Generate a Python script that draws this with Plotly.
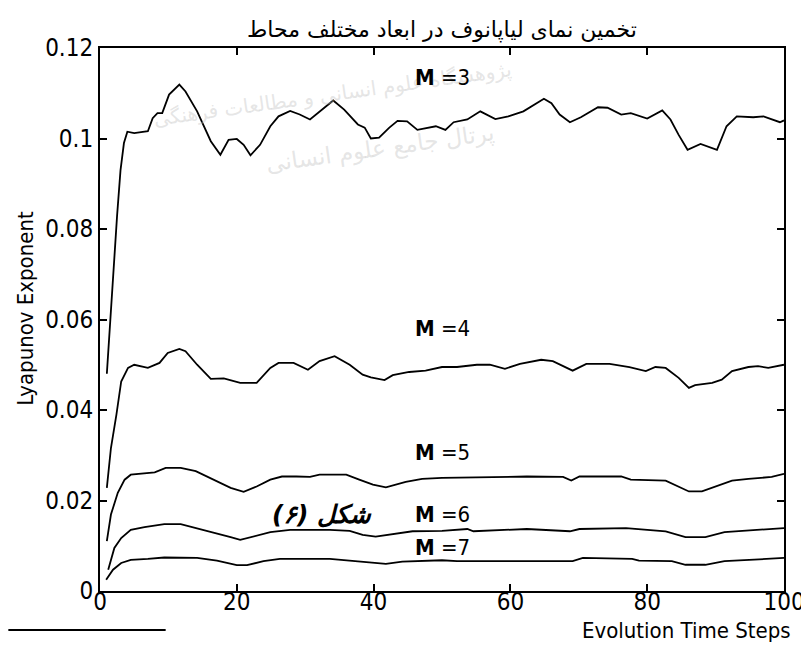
import plotly.graph_objects as go

# ---- data ----
x_m3 = [1, 1.5, 2, 2.5, 3, 3.5, 4, 5, 6, 7, 7.7, 8.4, 9.1, 10.1, 11.6, 12.5, 14.2, 16.2, 17.6, 18.8,
        20, 21, 22, 23.4, 24.9, 26.1, 27.8, 29.2, 30.7, 32.1, 34.1, 35.7, 37.7, 38.7, 39.6, 40.8,
        42.3, 43.5, 44.9, 46.4, 47.6, 49.1, 50.5, 51.7, 53.7, 55.6, 57.8, 59.7, 61.9, 63.6, 64.9,
        66, 67.2, 68.7, 70.3, 72.8, 74.2, 76.2, 77.6, 80, 82.2, 83.4, 84.6, 85.9, 87.8, 90.2, 91.6,
        93.1, 95.5, 97, 99.4, 100]
y_m3 = [0.048, 0.060, 0.070, 0.083, 0.093, 0.099, 0.1015, 0.1012, 0.1014, 0.1016, 0.1045, 0.1056,
        0.1056, 0.1097, 0.1119, 0.1104, 0.1060, 0.0994, 0.0964, 0.0997, 0.0999, 0.0986, 0.0963,
        0.0986, 0.1027, 0.1049, 0.1061, 0.1053, 0.1042, 0.1059, 0.1084, 0.1064, 0.1031, 0.1024,
        0.1000, 0.1002, 0.1024, 0.1039, 0.1038, 0.1019, 0.1023, 0.1027, 0.1019, 0.1036, 0.1042,
        0.1060, 0.1043, 0.1049, 0.1060, 0.1075, 0.1088, 0.1078, 0.1053, 0.1036, 0.1047, 0.1069,
        0.1068, 0.1053, 0.1056, 0.1044, 0.1062, 0.1042, 0.1008, 0.0975, 0.0988, 0.0975, 0.1027,
        0.1049, 0.1047, 0.1049, 0.1036, 0.1040]

x_m4 = [1, 1.6, 2.4, 3.1, 4.1, 5.0, 7.0, 8.7, 9.9, 11.6, 12.5, 14.2, 16.2, 18.1, 20.5, 22.9, 24.9,
        26.1, 28.3, 30.4, 32.1, 34.3, 36.5, 38.4, 39.6, 41.6, 42.8, 45.2, 47.6, 50.0, 52.2, 55.1,
        57.0, 59.2, 61.4, 64.5, 66.2, 69.1, 71.1, 74.5, 77.4, 79.8, 81.2, 82.7, 84.6, 86.1, 87.0,
        89.5, 90.9, 92.4, 94.8, 96.2, 97.7, 100]
y_m4 = [0.0228, 0.0316, 0.0390, 0.0463, 0.0493, 0.0500, 0.0493, 0.0504, 0.0526, 0.0535, 0.0530,
        0.0500, 0.0469, 0.0470, 0.0460, 0.0460, 0.0493, 0.0504, 0.0504, 0.0489, 0.0508, 0.0519,
        0.0500, 0.0478, 0.0472, 0.0466, 0.0477, 0.0484, 0.0487, 0.0495, 0.0495, 0.0500, 0.0500,
        0.0491, 0.0502, 0.0511, 0.0508, 0.0487, 0.0502, 0.0502, 0.0495, 0.0486, 0.0495, 0.0493,
        0.0471, 0.0449, 0.0455, 0.0460, 0.0467, 0.0486, 0.0495, 0.0497, 0.0493, 0.0500]

x_m5 = [1, 1.6, 2.6, 3.6, 4.5, 6.5, 8, 9.6, 11.8, 14.0, 16.6, 19.1, 21.0, 22.9, 24.9, 26.6, 28.7,
        30.7, 32.1, 36.0, 37.9, 39.9, 41.8, 44.7, 47.1, 50.0, 62.4, 67.7, 68.9, 70.1, 76.2, 77.6,
        82.7, 84.6, 86.1, 88.0, 89.9, 92.4, 94.8, 98.2, 100]
y_m5 = [0.0110, 0.0169, 0.0217, 0.0246, 0.0257, 0.0259, 0.0262, 0.0272, 0.0272, 0.0265, 0.0246,
        0.0228, 0.0219, 0.0231, 0.0246, 0.0253, 0.0253, 0.0252, 0.0257, 0.0257, 0.0246, 0.0235,
        0.0229, 0.0241, 0.0248, 0.0250, 0.0253, 0.0252, 0.0244, 0.0253, 0.0253, 0.0246, 0.0244,
        0.0231, 0.0220, 0.0220, 0.0231, 0.0244, 0.0248, 0.0252, 0.0259]

x_m6 = [1.2, 2.1, 3.1, 4.5, 6.5, 9.4, 11.8, 14.2, 16.6, 19.1, 20.5, 22.5, 24.9, 27.8, 30.7, 33.6,
        36.5, 38.4, 40.3, 42.3, 45.7, 50.0, 53.7, 54.6, 62.4, 68.7, 70.1, 76.9, 82.7, 85.6, 88.5,
        91.3, 96.2, 100]
y_m6 = [0.0047, 0.0095, 0.0117, 0.0135, 0.0141, 0.0148, 0.0148, 0.0139, 0.0130, 0.0119, 0.0113,
        0.0121, 0.0130, 0.0135, 0.0135, 0.0135, 0.0133, 0.0124, 0.0120, 0.0124, 0.0132, 0.0133,
        0.0137, 0.0132, 0.0137, 0.0132, 0.0137, 0.0139, 0.0132, 0.0119, 0.0119, 0.0130, 0.0135,
        0.0139]

x_m7 = [0.9, 1.9, 3.1, 4.5, 7.0, 9.4, 14.2, 17.1, 20.0, 21.5, 23.9, 26.3, 33.6, 37.4, 39.9, 41.8,
        44.2, 50.0, 52.2, 69.1, 70.6, 77.8, 78.8, 83.6, 85.6, 88.5, 91.3, 97.2, 100]
y_m7 = [0.0025, 0.0047, 0.0062, 0.0069, 0.0071, 0.0074, 0.0073, 0.0067, 0.0057, 0.0057, 0.0066,
        0.0071, 0.0071, 0.0066, 0.0063, 0.0060, 0.0065, 0.0068, 0.0066, 0.0066, 0.0073, 0.0071,
        0.0067, 0.0066, 0.0058, 0.0058, 0.0066, 0.0071, 0.0073]

series_labels = ["M =3", "M =4", "M =5", "M =6", "M =7"]
x_ticks = [0, 20, 40, 60, 80, 100]
y_ticks = [0, 0.02, 0.04, 0.06, 0.08, 0.1, 0.12]
y_tick_text = ["0", "0.02", "0.04", "0.06", "0.08", "0.1", "0.12"]

title_text = "تخمین نمای لیاپانوف در ابعاد مختلف محاط"
figure_caption = "شکل (۶)"
x_title = "Evolution Time Steps"
y_title = "Lyapunov Exponent"
watermark_1 = "پژوهشگاه علوم انسانی و مطالعات فرهنگی"
watermark_2 = "پرتال جامع علوم انسانی"

NARROW = "DejaVu Sans Condensed, Liberation Sans Narrow, Arial Narrow, Liberation Sans, sans-serif"
ARABIC = "DejaVu Sans, Noto Sans, sans-serif"

fig = go.Figure()
all_series = [(x_m3, y_m3), (x_m4, y_m4), (x_m5, y_m5), (x_m6, y_m6), (x_m7, y_m7)]
for (xs, ys), name in zip(all_series, series_labels):
    fig.add_trace(go.Scatter(x=xs, y=ys, mode="lines", name=name,
                             line=dict(color="black", width=1.8), showlegend=False))

# watermark (faint)
fig.add_annotation(text=watermark_1, xref="paper", yref="paper", x=0.34, y=0.915,
                   xanchor="center", yanchor="middle", showarrow=False, textangle=-8,
                   font=dict(family=ARABIC, size=20, color="rgba(190,190,190,0.4)"))
fig.add_annotation(text=watermark_2, xref="paper", yref="paper", x=0.41, y=0.815,
                   xanchor="center", yanchor="middle", showarrow=False, textangle=-8,
                   font=dict(family=ARABIC, size=23, color="rgba(190,190,190,0.4)"))

# series labels
label_pos = [(50.0, 0.1134), (50.0, 0.0581), (50.0, 0.0305), (50.0, 0.0169), (50.0, 0.0097)]
for name, (lx, ly) in zip(series_labels, label_pos):
    m, rest = name.split(" ", 1)
    fig.add_annotation(text="<b>" + m + "</b> " + rest, x=lx, y=ly, xref="x", yref="y",
                       xanchor="center", yanchor="middle", showarrow=False,
                       font=dict(family=NARROW, size=22, color="black"))

fig.add_annotation(text="<b><i>" + figure_caption + "</i></b>", x=32.4, y=0.0168,
                   xref="x", yref="y", xanchor="center", yanchor="middle", showarrow=False,
                   font=dict(family=ARABIC, size=25, color="black"))

fig.add_annotation(text=title_text, xref="paper", yref="paper", x=0.5, y=1.034,
                   xanchor="center", yanchor="middle", showarrow=False,
                   font=dict(family=ARABIC, size=22, color="black"))
fig.add_annotation(text=x_title, xref="paper", yref="paper", x=1.013, y=-0.073,
                   xanchor="right", yanchor="middle", showarrow=False,
                   font=dict(family=NARROW, size=22, color="black"))
fig.add_annotation(text=y_title, xref="paper", yref="paper", x=-0.108, y=0.52,
                   xanchor="center", yanchor="middle", textangle=-90, showarrow=False,
                   font=dict(family=NARROW, size=22, color="black"))

# footnote separator line
fig.add_shape(type="line", xref="paper", yref="paper", x0=-0.134, x1=0.096,
              y0=-0.072, y1=-0.072, line=dict(color="black", width=2))

axis_common = dict(showline=True, linecolor="black", linewidth=2, mirror="ticks",
                   ticks="inside", ticklen=7, tickwidth=1.5, tickcolor="black",
                   showgrid=False, zeroline=False,
                   tickfont=dict(family=NARROW, size=24, color="black"))
fig.update_xaxes(range=[0, 100], tickvals=x_ticks, ticktext=[str(v) for v in x_ticks],
                 ticklabelstandoff=-12, **axis_common)
fig.update_yaxes(range=[0, 0.12], tickvals=y_ticks, ticktext=y_tick_text, **axis_common)

fig.update_layout(width=809, height=645, margin=dict(l=92, r=28, t=40, b=62),
                  plot_bgcolor="white", paper_bgcolor="white", showlegend=False)

fig.write_html("out.html")
